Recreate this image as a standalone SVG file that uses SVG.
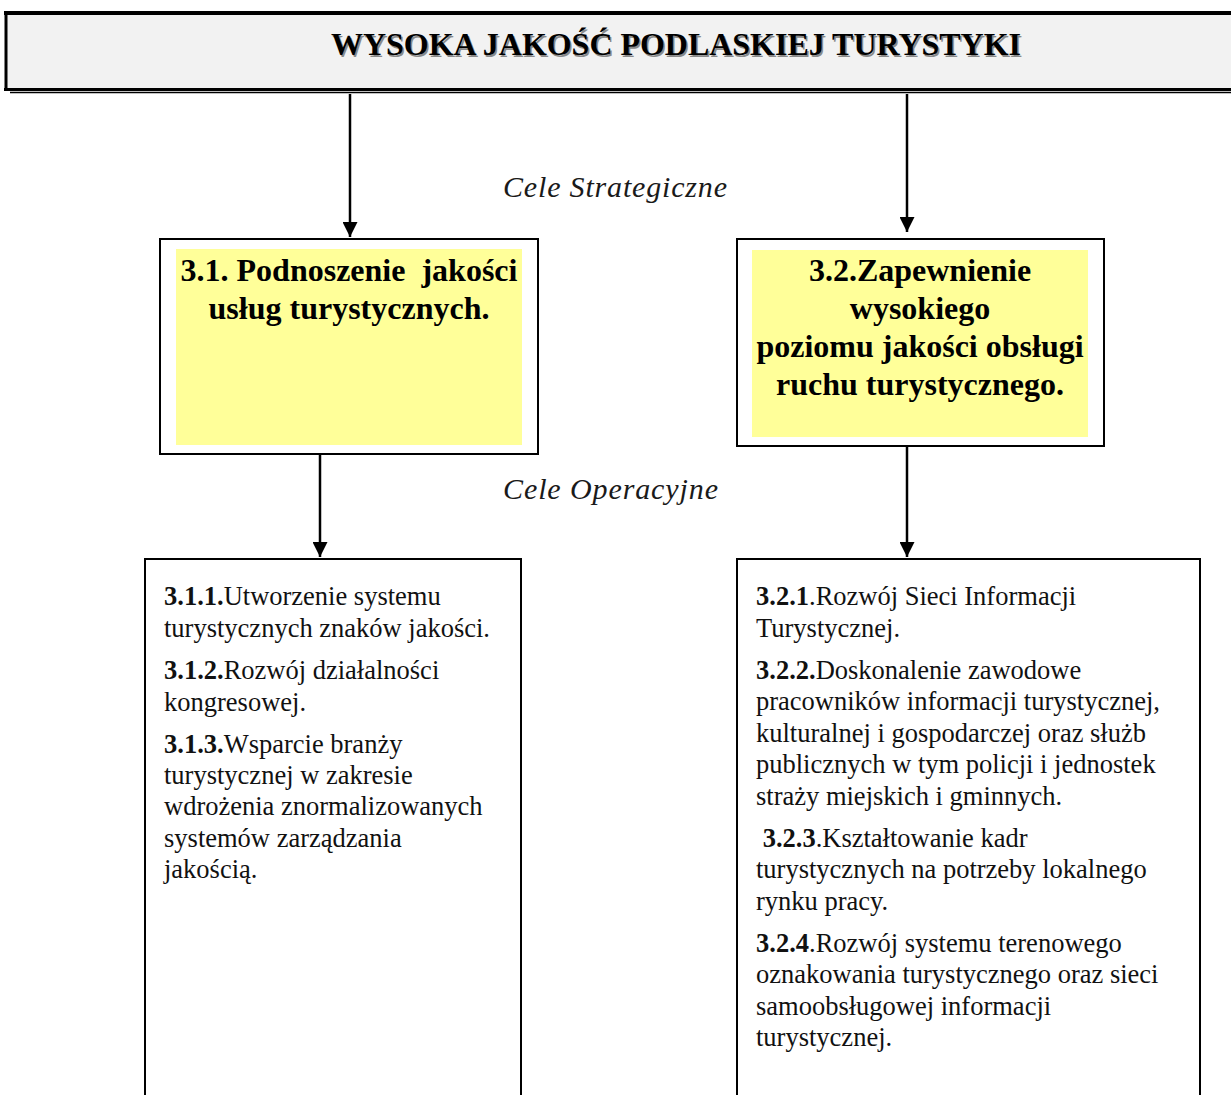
<svg xmlns="http://www.w3.org/2000/svg" width="1231" height="1095" viewBox="0 0 1231 1095">
<style>
.hdr{font-family:"Liberation Serif","Times New Roman",serif;font-weight:bold;font-size:32px;fill:#000}
.lbl{font-family:"Liberation Serif","Times New Roman",serif;font-style:italic;font-size:30px;fill:#1a1a1a}
.goal{font-family:"Liberation Serif","Times New Roman",serif;font-weight:bold;font-size:32px;fill:#000;text-anchor:middle;white-space:pre}
.body{font-family:"Liberation Serif","Times New Roman",serif;font-size:26.5px;fill:#111;white-space:pre}
.body tspan.b{font-weight:bold}
.box{fill:#fff;stroke:#000;stroke-width:2}
.yel{fill:#ffff99}
.conn{stroke:#000;stroke-width:2.5;fill:none}
</style>
<defs>
<marker id="ah" viewBox="0 0 10 10" refX="10" refY="5" markerWidth="6" markerHeight="6" markerUnits="strokeWidth" orient="auto">
<path d="M0,0 L10,5 L0,10 z" fill="#000"/>
</marker>
</defs>
<rect width="1231" height="1095" fill="#fff"/>
<g id="header">
<rect x="6" y="13" width="1240" height="76" fill="#f2f2f2"/>
<line x1="4" y1="13" x2="1231" y2="13" stroke="#000" stroke-width="4"/>
<line x1="6" y1="11" x2="6" y2="91" stroke="#000" stroke-width="3"/>
<line x1="4" y1="89.5" x2="1231" y2="89.5" stroke="#000" stroke-width="3"/>
<line x1="10" y1="92.5" x2="1231" y2="92.5" stroke="#000" stroke-width="1.5"/>
<text class="hdr" x="332.5" y="56.5" textLength="690" lengthAdjust="spacingAndGlyphs" style="fill:#8a8a8a">WYSOKA JAKOŚĆ PODLASKIEJ TURYSTYKI</text>
<text class="hdr" x="331" y="55" textLength="690" lengthAdjust="spacingAndGlyphs">WYSOKA JAKOŚĆ PODLASKIEJ TURYSTYKI</text>
</g>
<g id="labels">
<text class="lbl" x="503" y="197" textLength="224">Cele Strategiczne</text>
<text class="lbl" x="503" y="499" textLength="215">Cele Operacyjne</text>
</g>
<g id="connectors">
<line class="conn" x1="350" y1="94" x2="350" y2="237" marker-end="url(#ah)"/>
<line class="conn" x1="907" y1="94" x2="907" y2="232" marker-end="url(#ah)"/>
<line class="conn" x1="320" y1="455" x2="320" y2="557" marker-end="url(#ah)"/>
<line class="conn" x1="907" y1="447" x2="907" y2="557" marker-end="url(#ah)"/>
</g>
<g id="goal31">
<rect class="box" x="160" y="239" width="378" height="215"/>
<rect class="yel" x="176" y="249" width="346" height="196"/>
<text class="goal" x="349" y="281">3.1. Podnoszenie  jakości</text>
<text class="goal" x="349" y="319">usług turystycznych.</text>
</g>
<g id="goal32">
<rect class="box" x="737" y="239" width="367" height="207"/>
<rect class="yel" x="752" y="250" width="336" height="187"/>
<text class="goal" x="920" y="281">3.2.Zapewnienie</text>
<text class="goal" x="920" y="319">wysokiego</text>
<text class="goal" x="920" y="357">poziomu jakości obsługi</text>
<text class="goal" x="920" y="395">ruchu turystycznego.</text>
</g>
<g id="ops31">
<path class="box" d="M145,1096 V559 H521 V1096"/>
<text class="body" x="164" y="605"><tspan class="b">3.1.1.</tspan>Utworzenie systemu</text>
<text class="body" x="164" y="637">turystycznych znaków jakości.</text>
<text class="body" x="164" y="679"><tspan class="b">3.1.2.</tspan>Rozwój działalności</text>
<text class="body" x="164" y="711">kongresowej.</text>
<text class="body" x="164" y="753"><tspan class="b">3.1.3.</tspan>Wsparcie branży</text>
<text class="body" x="164" y="784">turystycznej w zakresie</text>
<text class="body" x="164" y="815">wdrożenia znormalizowanych</text>
<text class="body" x="164" y="847">systemów zarządzania</text>
<text class="body" x="164" y="878">jakością.</text>
</g>
<g id="ops32">
<path class="box" d="M737,1096 V559 H1200 V1096"/>
<text class="body" x="756" y="605"><tspan class="b">3.2.1</tspan>.Rozwój Sieci Informacji</text>
<text class="body" x="756" y="637">Turystycznej.</text>
<text class="body" x="756" y="679"><tspan class="b">3.2.2.</tspan>Doskonalenie zawodowe</text>
<text class="body" x="756" y="710">pracowników informacji turystycznej,</text>
<text class="body" x="756" y="742">kulturalnej i gospodarczej oraz służb</text>
<text class="body" x="756" y="773">publicznych w tym policji i jednostek</text>
<text class="body" x="756" y="805">straży miejskich i gminnych.</text>
<text class="body" x="756" y="847"> <tspan class="b">3.2.3</tspan>.Kształtowanie kadr</text>
<text class="body" x="756" y="878">turystycznych na potrzeby lokalnego</text>
<text class="body" x="756" y="910">rynku pracy.</text>
<text class="body" x="756" y="952"><tspan class="b">3.2.4</tspan>.Rozwój systemu terenowego</text>
<text class="body" x="756" y="983">oznakowania turystycznego oraz sieci</text>
<text class="body" x="756" y="1015">samoobsługowej informacji</text>
<text class="body" x="756" y="1046">turystycznej.</text>
</g>
</svg>
